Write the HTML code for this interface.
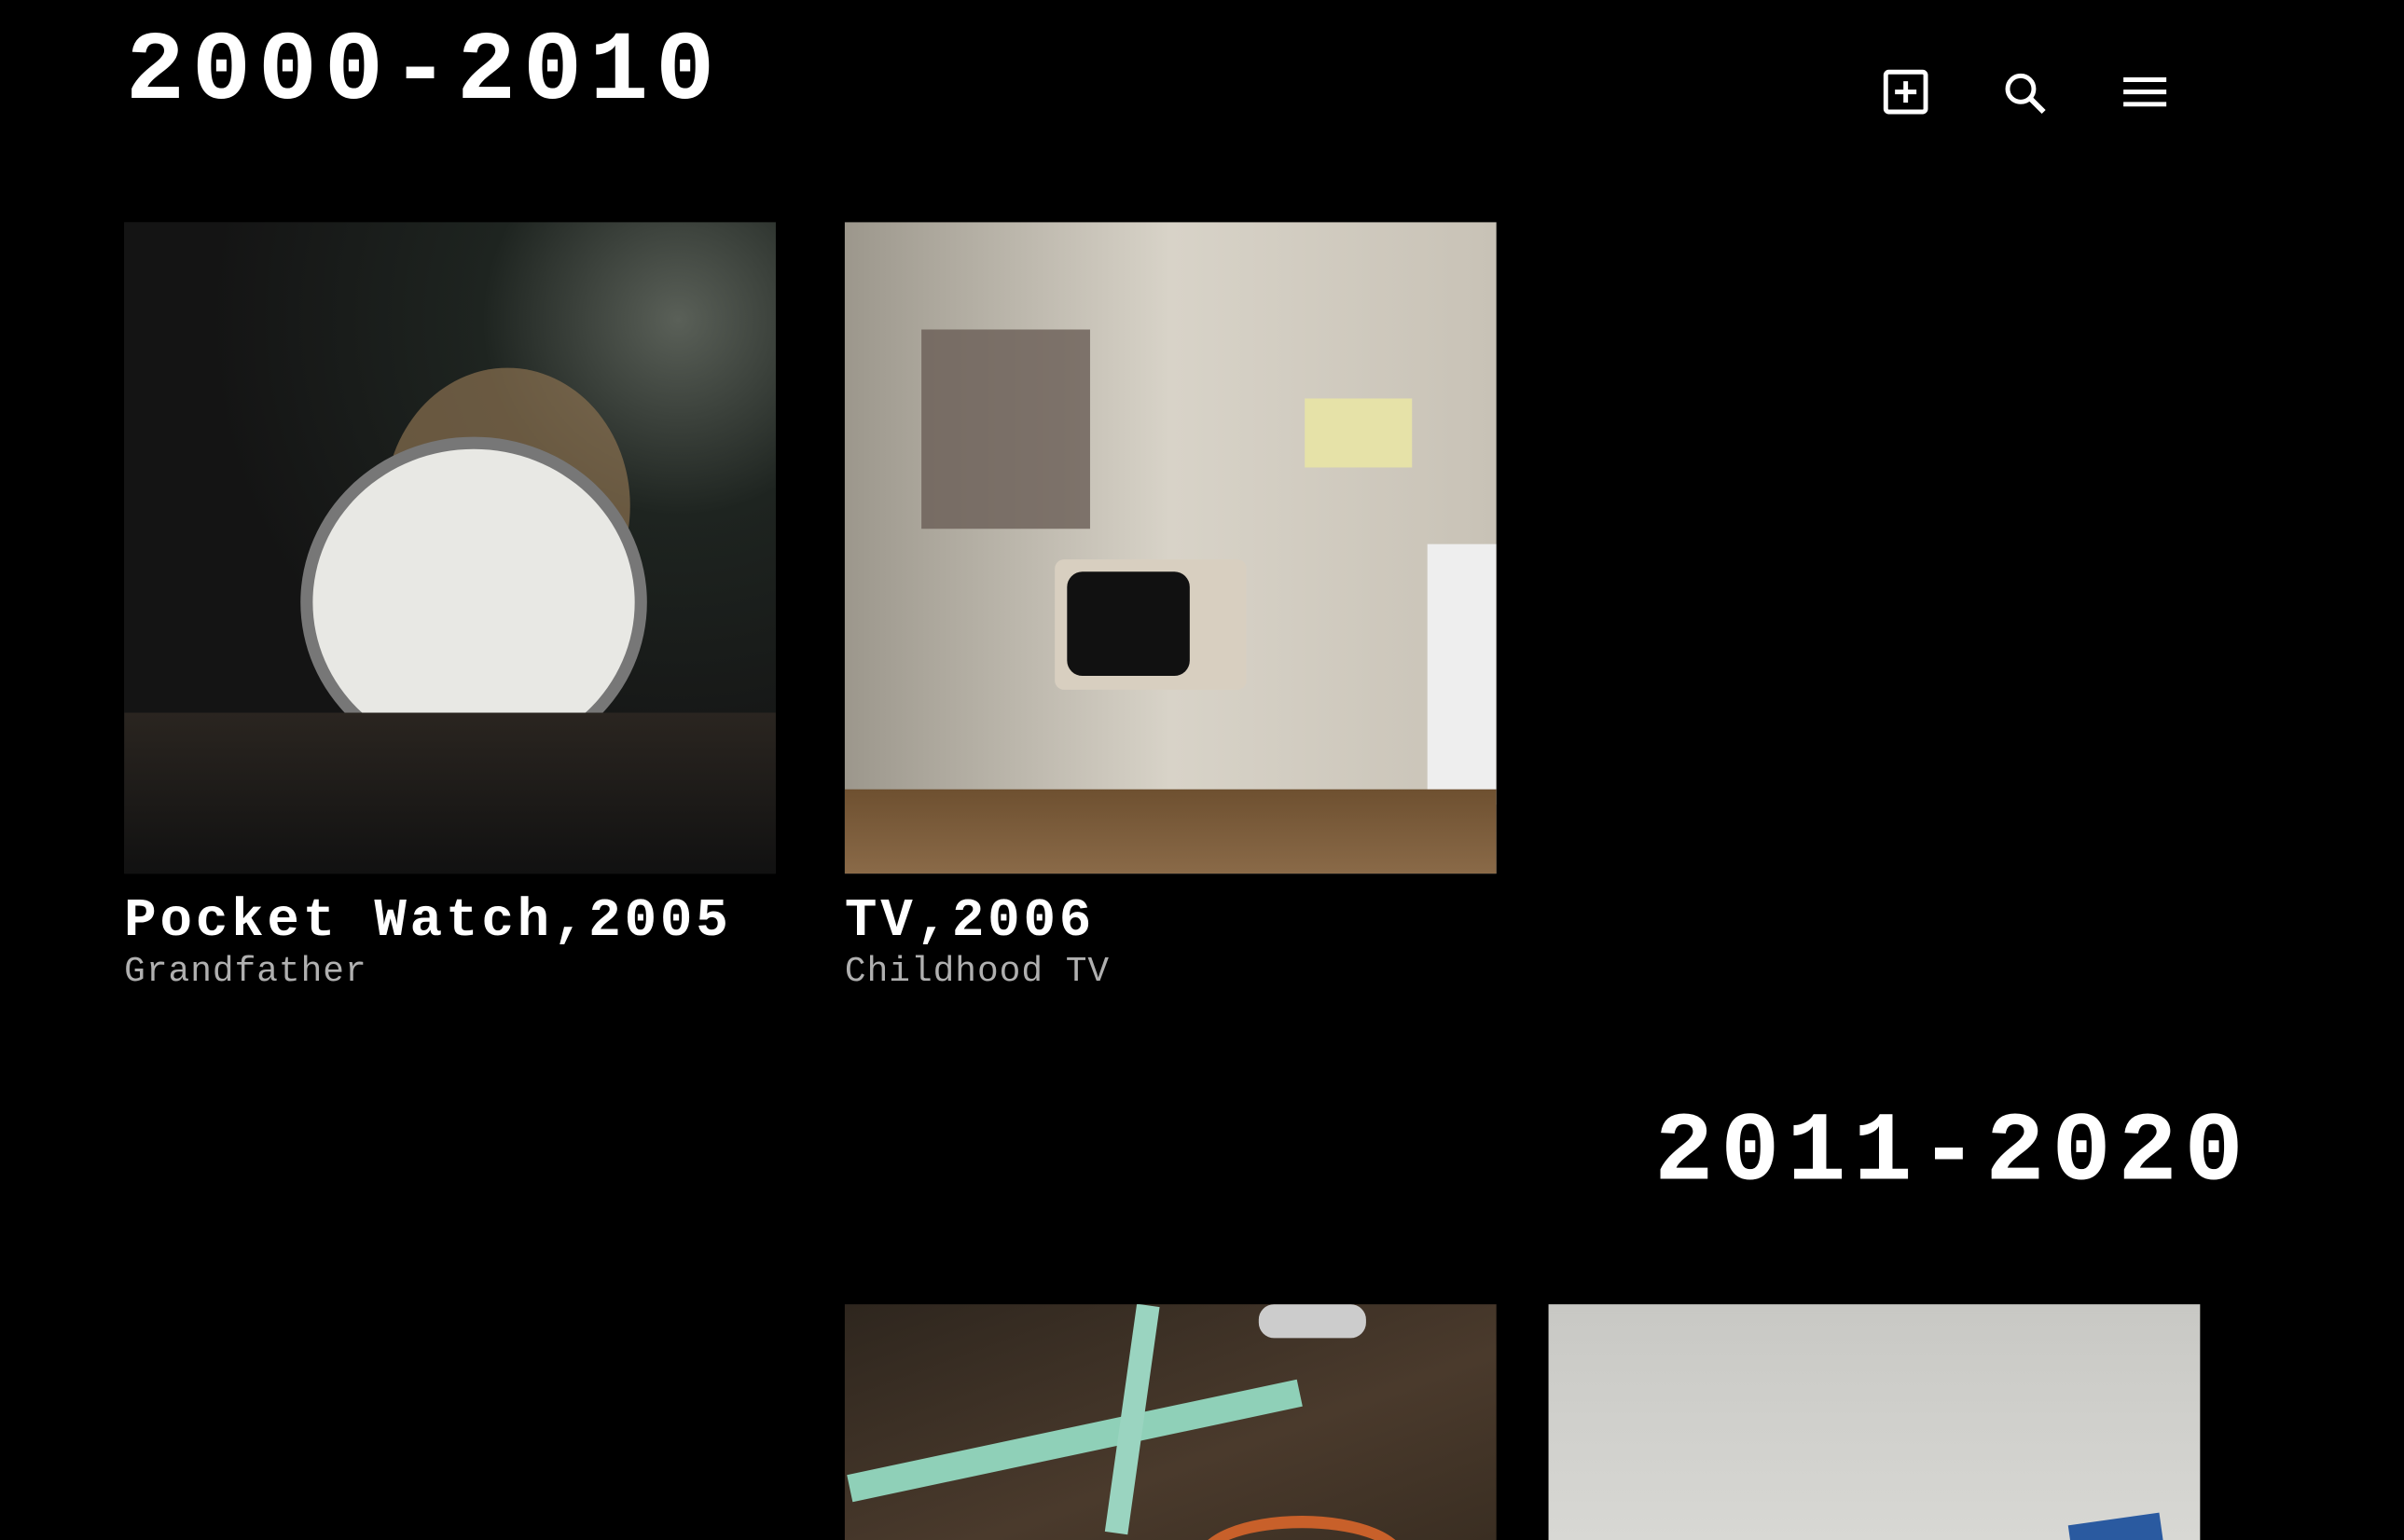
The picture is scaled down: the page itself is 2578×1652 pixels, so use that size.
<!DOCTYPE html>
<html><head><meta charset="utf-8"><style>
html,body{margin:0;padding:0;background:#000;overflow:hidden;width:2578px;height:1652px}
#clip{position:absolute;left:0;top:0;width:2578px;height:1652px;overflow:hidden}
#w{position:absolute;left:0;top:0;width:1568px;height:1005px;overflow:hidden;transform:scale(1.64413);transform-origin:0 0;font-family:"Liberation Mono",monospace;color:#fff}
.h{position:absolute;font-weight:bold;font-size:64px;letter-spacing:4.8px;line-height:1}
.img{position:absolute;width:425px;height:425px;overflow:hidden}
.t{position:absolute;font-weight:bold;font-size:35px;letter-spacing:2.3px;line-height:1}
.s{position:absolute;font-size:23px;letter-spacing:0.6px;color:#b0b0b0;line-height:1}
.ic{position:absolute}
</style></head><body>
<div id="clip">
<div id="w">
<div class="h" style="left:82px;top:16px">2000-2010</div>
<svg class="ic" style="left:1227px;top:44px" width="32" height="32" viewBox="0 0 32 32"><rect x="3" y="3" width="26" height="26" rx="2" fill="none" stroke="#fff" stroke-width="3"/><path d="M16 9v14M9 16h14" stroke="#fff" stroke-width="3"/></svg>
<svg class="ic" style="left:1305px;top:45px" width="32" height="32" viewBox="0 0 32 32"><circle cx="13" cy="13" r="8.5" fill="none" stroke="#fff" stroke-width="3"/><path d="M19 19l9 9" stroke="#fff" stroke-width="3.5"/></svg>
<svg class="ic" style="left:1383px;top:46px" width="32" height="28" viewBox="0 0 32 28"><path d="M2 6h28M2 14h28M2 22h28" stroke="#fff" stroke-width="3"/></svg>

<div class="img" style="left:81px;top:145px;background:radial-gradient(circle at 85% 15%,#5a6058 0,#1e2420 25%,#141414 60%),#141414">
<div style="position:absolute;left:170px;top:95px;width:160px;height:180px;border-radius:50%;background:#8a7050;opacity:.7"></div>
<div style="position:absolute;left:115px;top:140px;width:210px;height:200px;border-radius:50%;background:#e8e8e4;border:8px solid #777"></div>
<div style="position:absolute;left:0;top:320px;width:425px;height:105px;background:linear-gradient(#2a2520,#111)"></div>
</div>
<div class="img" style="left:551px;top:145px;background:linear-gradient(90deg,#9c978c,#d8d3c8 50%,#c8c2b6);">
<div style="position:absolute;left:50px;top:70px;width:110px;height:130px;background:#6a5e56;opacity:.8"></div>
<div style="position:absolute;left:137px;top:220px;width:125px;height:85px;background:#d8cfc0;border-radius:6px"></div>
<div style="position:absolute;left:145px;top:228px;width:80px;height:68px;background:#111;border-radius:10px"></div>
<div style="position:absolute;left:300px;top:115px;width:70px;height:45px;background:#e6e2a8;"></div>
<div style="position:absolute;left:380px;top:210px;width:45px;height:170px;background:#eee"></div>
<div style="position:absolute;left:0;top:370px;width:425px;height:55px;background:linear-gradient(#6e5030,#8a6a48)"></div>
</div>
<div class="t" style="left:81px;top:584px">Pocket Watch,2005</div>
<div class="s" style="left:81px;top:623px">Grandfather</div>
<div class="t" style="left:551px;top:584px">TV,2006</div>
<div class="s" style="left:551px;top:623px">Childhood TV</div>

<div class="h" style="right:100px;top:721px">2011-2020</div>
<div class="img" style="left:551px;top:851px;height:154px;background:linear-gradient(160deg,#2e261e,#4a3a2c 60%,#3a2e22)">
<div style="position:absolute;left:0;top:80px;width:300px;height:18px;background:#8fd0b8;transform:rotate(-12deg)"></div>
<div style="position:absolute;left:180px;top:0;width:15px;height:150px;background:#9ad4c0;transform:rotate(8deg)"></div>
<div style="position:absolute;left:270px;top:0;width:70px;height:22px;background:#ccc;border-radius:10px"></div>
<div style="position:absolute;left:230px;top:138px;width:120px;height:40px;border-radius:50%;border:8px solid #c8602a"></div>
</div>
<div class="img" style="left:1010px;top:851px;height:154px;background:linear-gradient(#c8c8c4,#d8d8d4)">
<div style="position:absolute;left:340px;top:140px;width:60px;height:20px;background:#2a5aa0;transform:rotate(-8deg)"></div>
</div>
</div>
</div>
</body></html>
